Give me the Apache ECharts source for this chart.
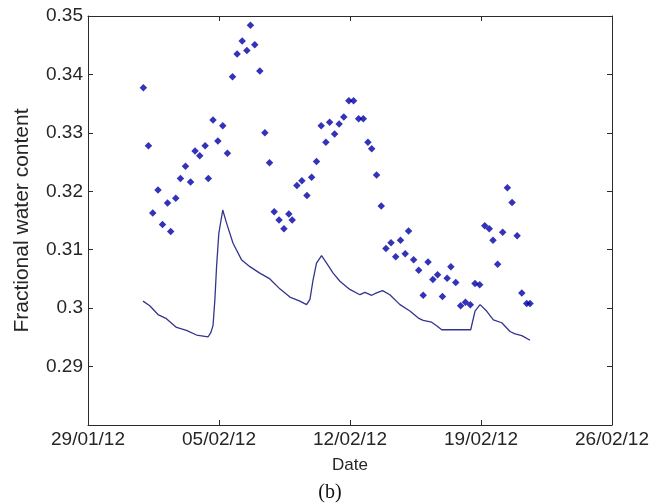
<!DOCTYPE html>
<html>
<head>
<meta charset="utf-8">
<script src="https://cdn.jsdelivr.net/npm/echarts@6/dist/echarts.min.js"></script>
<style>
  html, body { margin: 0; padding: 0; background: #fff; }
  #chart { width: 660px; height: 504px; }
</style>
</head>
<body>
<div id="chart"></div>
<script>
// x values are days counted from 29/01/12
const startDate = [2012, 0, 29];

// measured fractional water content (diamond markers)
const measuredDays = [
  2.96, 3.23, 3.46, 3.74, 3.98, 4.25, 4.42, 4.69, 4.94, 5.21, 5.48, 5.72,
  5.97, 6.26, 6.43, 6.68, 6.94, 7.20, 7.45, 7.72, 7.97, 8.24, 8.49, 8.68,
  8.91, 9.18, 9.45, 9.70, 9.95, 10.21, 10.47, 10.73, 10.91, 11.16, 11.43, 11.70,
  11.95, 12.21, 12.46, 12.71, 12.91, 13.18, 13.42, 13.67, 13.94, 14.19, 14.46, 14.71,
  14.96, 15.16, 15.42, 15.67, 15.92, 16.19, 16.44, 16.70, 16.95, 17.13, 17.40, 17.67,
  17.91, 18.17, 18.43, 18.68, 18.94, 19.19, 19.39, 19.65, 19.91, 20.17, 20.43, 20.68,
  20.93, 21.20, 21.44, 21.64, 21.89, 22.16, 22.41, 22.66, 22.93, 23.18, 23.44, 23.62
];
const measuredValues = [
  0.3377, 0.3278, 0.3163, 0.3202, 0.3143, 0.3180, 0.3131, 0.3188, 0.3222, 0.3243, 0.3216, 0.3269,
  0.3261, 0.3278, 0.3222, 0.3322, 0.3286, 0.3312, 0.3265, 0.3396, 0.3435, 0.3457, 0.3441, 0.3484,
  0.3451, 0.3406, 0.3300, 0.3249, 0.3165, 0.3151, 0.3136, 0.3161, 0.3151, 0.3210, 0.3218, 0.3193,
  0.3224, 0.3251, 0.3312, 0.3284, 0.3318, 0.3298, 0.3315, 0.3327, 0.3355, 0.3355, 0.3324, 0.3324,
  0.3284, 0.3273, 0.3228, 0.3175, 0.3102, 0.3112, 0.3088, 0.3116, 0.3093, 0.3132, 0.3083, 0.3065,
  0.3022, 0.3079, 0.3049, 0.3057, 0.3020, 0.3051, 0.3071, 0.3044, 0.3004, 0.3010, 0.3006, 0.3042,
  0.3040, 0.3141, 0.3136, 0.3116, 0.3075, 0.3130, 0.3206, 0.3181, 0.3124, 0.3026, 0.3008, 0.3008
];

// modelled water content (solid line)
const modelDays = [
  2.94, 3.30, 3.74, 4.19, 4.73, 5.26, 5.80, 6.42, 6.56, 6.68, 6.78, 6.87,
  6.99, 7.20, 7.40, 7.75, 8.20, 8.65, 9.18, 9.72, 10.25, 10.79, 11.32, 11.68,
  11.86, 12.03, 12.21, 12.48, 12.75, 13.10, 13.46, 13.99, 14.53, 14.80, 15.16, 15.42,
  15.74, 16.13, 16.67, 17.20, 17.65, 17.91, 18.36, 18.63, 18.90, 20.45, 20.68, 20.95,
  21.30, 21.66, 22.11, 22.55, 22.82, 23.18, 23.62
];
const modelValues = [
  0.3012, 0.3004, 0.2989, 0.2982, 0.2967, 0.2962, 0.2954, 0.2951, 0.2958, 0.2970, 0.3015, 0.3071,
  0.3128, 0.3168, 0.3146, 0.3111, 0.3083, 0.3071, 0.3060, 0.3050, 0.3033, 0.3019, 0.3012, 0.3006,
  0.3015, 0.3049, 0.3077, 0.3090, 0.3077, 0.3060, 0.3046, 0.3032, 0.3023, 0.3027, 0.3022, 0.3026,
  0.3030, 0.3023, 0.3006, 0.2995, 0.2983, 0.2979, 0.2976, 0.2970, 0.2963, 0.2963, 0.2995, 0.3006,
  0.2995, 0.2980, 0.2975, 0.2960, 0.2956, 0.2953, 0.2945
];

const yMin = 0.28, yMax = 0.35, yStep = 0.01;
const xMin = 0, xMax = 28, xStep = 7;

function dayLabel(d) {
  const dt = new Date(Date.UTC(startDate[0], startDate[1], startDate[2] + Math.round(d)));
  const p = n => String(n).padStart(2, '0');
  return p(dt.getUTCDate()) + '/' + p(dt.getUTCMonth() + 1) + '/' + String(dt.getUTCFullYear()).slice(2);
}

const font = 'Liberation Sans, Arial, sans-serif';
const axisColor = '#2b2b2b';
const textColor = '#262626';

const chart = echarts.init(document.getElementById('chart'));

const xBase = {
  type: 'value', min: xMin, max: xMax, interval: xStep,
  splitLine: { show: false },
  axisLine: { show: true, onZero: false, lineStyle: { color: axisColor, width: 1 } },
  axisTick: { show: true, inside: true, length: 5, lineStyle: { color: axisColor } }
};
const yBase = {
  type: 'value', min: yMin, max: yMax, interval: yStep,
  splitLine: { show: false },
  axisLine: { show: true, onZero: false, lineStyle: { color: axisColor, width: 1 } },
  axisTick: { show: true, inside: true, length: 5, lineStyle: { color: axisColor } }
};

chart.setOption({
  animation: false,
  backgroundColor: '#ffffff',
  title: {
    text: '(b)', left: 'center', top: 478,
    textStyle: { fontFamily: 'Liberation Serif, Times New Roman, serif', fontSize: 20, fontWeight: 'normal', color: '#111' }
  },
  grid: { left: 88, right: 48, top: 16, bottom: 79 },
  xAxis: [
    Object.assign({}, xBase, {
      position: 'bottom',
      name: 'Date', nameLocation: 'middle', nameGap: 32,
      nameTextStyle: { fontFamily: font, fontSize: 17, color: textColor },
      axisLabel: { fontFamily: font, fontSize: 19, color: textColor, margin: 5, formatter: dayLabel }
    }),
    Object.assign({}, xBase, { position: 'top', axisLabel: { show: false } })
  ],
  yAxis: [
    Object.assign({}, yBase, {
      position: 'left',
      name: 'Fractional water content', nameLocation: 'middle', nameGap: 55, nameRotate: 90,
      nameTextStyle: { fontFamily: font, fontSize: 21, color: textColor },
      axisLabel: {
        fontFamily: font, fontSize: 19, color: textColor, margin: 5,
        formatter: v => (v < yMin + yStep / 2 ? '' : String(+v.toFixed(2)))
      }
    }),
    Object.assign({}, yBase, { position: 'right', axisLabel: { show: false } })
  ],
  series: [
    {
      type: 'line',
      xAxisIndex: 0, yAxisIndex: 0,
      data: modelDays.map((d, i) => [d, modelValues[i]]),
      showSymbol: false, symbol: 'none',
      lineStyle: { color: '#34348f', width: 1.3 },
      z: 2
    },
    {
      type: 'scatter',
      xAxisIndex: 0, yAxisIndex: 0,
      data: measuredDays.map((d, i) => [d, measuredValues[i]]),
      symbol: 'diamond', symbolSize: 7.5,
      itemStyle: { color: '#0000a8' },
      z: 3
    }
  ]
});
</script>
</body>
</html>
